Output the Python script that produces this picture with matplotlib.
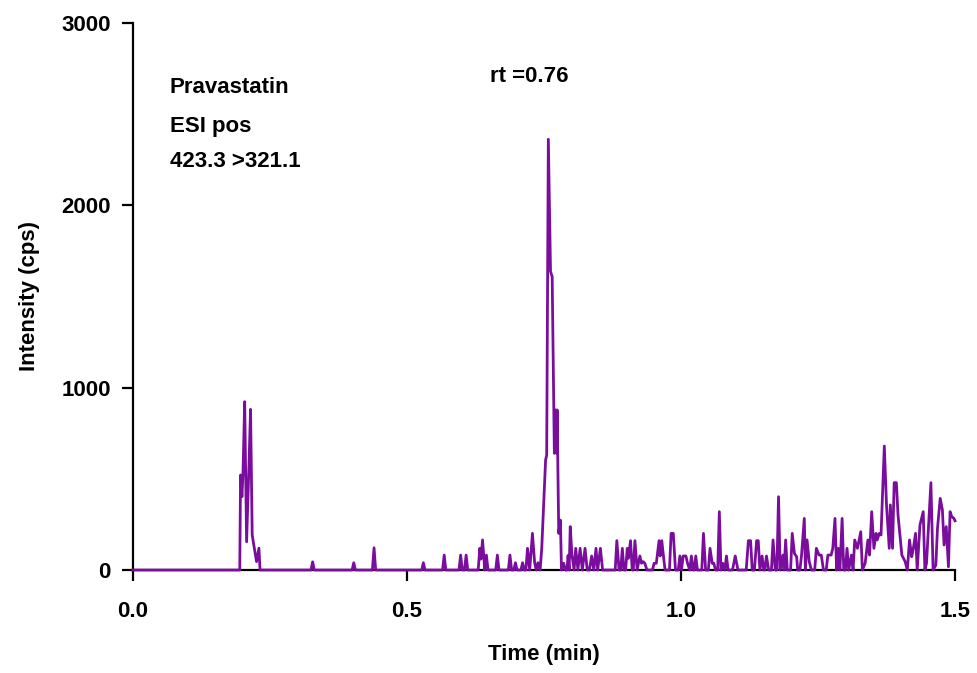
import matplotlib
matplotlib.use("Agg")
import matplotlib.pyplot as plt

# chromatogram (time in min, intensity in cps)
time = [0.000, 0.195, 0.1965, 0.199, 0.201, 0.204, 0.2075, 0.212, 0.2147, 0.2177, 0.2256, 0.230, 0.232,
        0.325, 0.328, 0.331, 0.400, 0.403, 0.406, 0.437, 0.440, 0.443, 0.527, 0.530, 0.533,
        0.565, 0.568, 0.571, 0.595, 0.598, 0.601, 0.605, 0.608, 0.611, 0.630, 0.633, 0.635, 0.638,
        0.642, 0.645, 0.648, 0.662, 0.665, 0.668, 0.685, 0.688, 0.691, 0.695, 0.698, 0.701,
        0.708, 0.711, 0.714, 0.717, 0.720, 0.724, 0.729, 0.733, 0.736, 0.739, 0.743,
        0.746, 0.753, 0.755, 0.758, 0.762, 0.765, 0.769, 0.771, 0.773, 0.774, 0.777, 0.780, 0.782,
        0.786, 0.789, 0.792, 0.794, 0.796, 0.798, 0.801, 0.805, 0.808, 0.812, 0.816, 0.820,
        0.825, 0.829, 0.833, 0.837, 0.841, 0.845, 0.848, 0.853, 0.857, 0.880, 0.883, 0.887,
        0.890, 0.893, 0.896, 0.899, 0.902, 0.904, 0.908, 0.911, 0.913, 0.916, 0.920, 0.925,
        0.928, 0.931, 0.934, 0.938, 0.948, 0.951, 0.955, 0.960, 0.962, 0.965, 0.968, 0.971,
        0.979, 0.982, 0.986, 0.990, 0.995, 0.998, 1.001, 1.004, 1.009, 1.012, 1.016, 1.019,
        1.022, 1.024, 1.027, 1.030, 1.038, 1.041, 1.045, 1.050, 1.053, 1.057, 1.060, 1.063,
        1.067, 1.070, 1.073, 1.076, 1.080, 1.083, 1.086, 1.094, 1.099, 1.104, 1.119, 1.123,
        1.127, 1.130, 1.134, 1.138, 1.141, 1.144, 1.148, 1.151, 1.153, 1.156, 1.160, 1.165,
        1.168, 1.172, 1.175, 1.178, 1.181, 1.186, 1.188, 1.191, 1.194, 1.200, 1.203, 1.207,
        1.211, 1.213, 1.217, 1.220, 1.225, 1.227, 1.230, 1.234, 1.238, 1.244, 1.247, 1.252,
        1.256, 1.260, 1.265, 1.268, 1.274, 1.277, 1.281, 1.284, 1.287, 1.290, 1.294, 1.297,
        1.300, 1.303, 1.306, 1.311, 1.314, 1.317, 1.322, 1.328, 1.331, 1.336, 1.341, 1.344,
        1.348, 1.352, 1.356, 1.358, 1.362, 1.365, 1.371, 1.375, 1.380, 1.382, 1.386, 1.389,
        1.393, 1.396, 1.403, 1.409, 1.413, 1.417, 1.421, 1.424, 1.428, 1.431, 1.436, 1.442,
        1.445, 1.448, 1.456, 1.460, 1.465, 1.468, 1.473, 1.477, 1.480, 1.484, 1.488, 1.491,
        1.494, 1.498, 1.500]
intensity = [0, 0, 521, 402, 540, 923, 155, 594, 881, 192, 46, 120, 0,
             0, 45, 0, 0, 40, 0, 0, 122, 0, 0, 40, 0,
             0, 82, 0, 0, 82, 0, 0, 82, 0, 0, 119, 60, 165,
             0, 82, 0, 0, 82, 0, 0, 82, 0, 0, 40, 0,
             0, 40, 0, 0, 119, 0, 201, 40, 0, 40, 0,
             120, 603, 630, 2362, 1637, 1609, 640, 878, 640, 878, 201, 274, 0,
             37, 0, 0, 80, 0, 238, 85, 0, 119, 0, 119, 0,
             119, 0, 0, 77, 0, 119, 0, 119, 0, 0, 161, 0,
             0, 119, 0, 0, 119, 64, 161, 0, 0, 161, 0, 77,
             37, 46, 37, 0, 0, 37, 37, 161, 77, 161, 77, 0,
             0, 201, 201, 0, 0, 77, 0, 77, 77, 37, 0, 77,
             0, 0, 77, 0, 0, 201, 0, 0, 119, 37, 37, 0,
             0, 320, 0, 37, 0, 77, 0, 0, 77, 0, 0, 161,
             161, 0, 0, 161, 161, 0, 77, 0, 0, 77, 0, 0,
             165, 0, 0, 402, 0, 82, 0, 165, 0, 0, 201, 91,
             73, 0, 0, 82, 283, 0, 165, 46, 0, 0, 119, 82,
             82, 0, 0, 82, 82, 119, 283, 0, 119, 0, 283, 0,
             0, 119, 0, 82, 0, 165, 119, 210, 0, 37, 165, 82,
             320, 119, 201, 165, 201, 192, 680, 357, 119, 357, 119, 479,
             479, 302, 82, 46, 0, 165, 73, 119, 201, 0, 247, 320,
             0, 37, 479, 0, 27, 229, 393, 329, 137, 238, 18, 320,
             293, 283, 270]

x_ticks = [0.0, 0.5, 1.0, 1.5]
x_tick_labels = ["0.0", "0.5", "1.0", "1.5"]
y_ticks = [0, 1000, 2000, 3000]

plt.rcParams['font.family'] = ['Liberation Sans', 'DejaVu Sans']
plt.rcParams['font.weight'] = 'bold'

fig = plt.figure(figsize=(9.77, 6.73), dpi=100)
ax = fig.add_axes([0.136, 0.153, 0.8415, 0.813])

ax.plot(time, intensity, color='#7b0d9e', linewidth=2.0, clip_on=False, zorder=3)

ax.set_xlim(0, 1.5)
ax.set_ylim(0, 3000)
ax.set_xticks(x_ticks)
ax.set_xticklabels(x_tick_labels)
ax.set_yticks(y_ticks)

for s in ['top', 'right']:
    ax.spines[s].set_visible(False)
for s in ['left', 'bottom']:
    ax.spines[s].set_linewidth(1.6)
    ax.spines[s].set_color('black')

ax.tick_params(direction='out', length=8, width=1.6, labelsize=16)
ax.tick_params(axis='x', pad=14)
ax.tick_params(axis='y', pad=8)
for lab in ax.get_xticklabels() + ax.get_yticklabels():
    lab.set_fontweight('bold')

ax.set_xlabel('Time (min)', fontsize=16, fontweight='bold', labelpad=16)
ax.set_ylabel('Intensity (cps)', fontsize=16, fontweight='bold', labelpad=15)

ax.text(0.0675, 2644, 'Pravastatin', fontsize=16, fontweight='bold', va='center')
ax.text(0.0675, 2430, 'ESI pos', fontsize=16, fontweight='bold', va='center')
ax.text(0.0675, 2238, '423.3 >321.1', fontsize=16, fontweight='bold', va='center')
ax.text(0.651, 2704, 'rt =0.76', fontsize=16, fontweight='bold', va='center')

fig.savefig('out.png', dpi=100)
